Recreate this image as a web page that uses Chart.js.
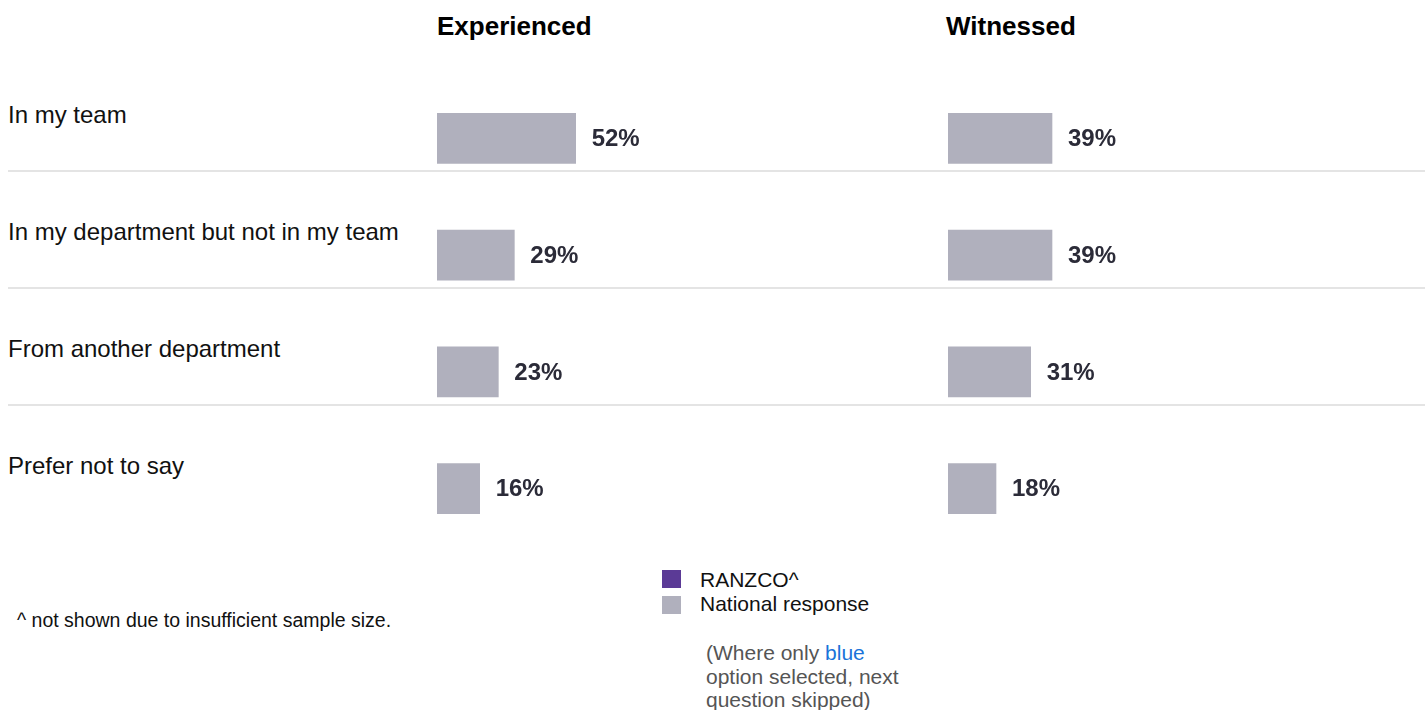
<!DOCTYPE html>
<html>
<head>
<meta charset="utf-8">
<title>Experienced / Witnessed</title>
<script src="https://cdn.jsdelivr.net/npm/chart.js@4"></script>
<style>
    html, body { margin: 0; padding: 0; background: #fff; }
    body { width: 1425px; height: 710px; position: relative; overflow: hidden;
           font-family: "Liberation Sans", Arial, Helvetica, sans-serif; color: #111; }
    .abs { position: absolute; white-space: nowrap; }
    .panel-title { font-size: 26px; line-height: 26px; font-weight: bold; color: #000; }
    .cat { font-size: 24px; line-height: 24px; color: #111; left: 8px; }
    .sep { position: absolute; left: 8px; right: 0; height: 2px; background: #e4e4e4; }
    .chart-box { position: absolute; }
    .swatch { position: absolute; width: 19px; height: 18px; }
    .legend-text { font-size: 21px; line-height: 21px; color: #111; }
    .note { font-size: 21px; line-height: 23.5px; color: #555; }
    .note span { color: #1a73d9; }
    .footnote { font-size: 19.5px; line-height: 20px; color: #111; }
</style>
</head>
<body>

<div class="abs panel-title" id="title0" style="left:437px; top:13px;"></div>
<div class="abs panel-title" id="title1" style="left:946px; top:13px;"></div>

<div class="chart-box" style="left:437px; top:80px; width:400px; height:467px;">
    <canvas id="experiencedChart" width="400" height="467"></canvas>
</div>
<div class="chart-box" style="left:948px; top:80px; width:400px; height:467px;">
    <canvas id="witnessedChart" width="400" height="467"></canvas>
</div>

<div id="rowLabels"></div>

<div class="swatch" id="sw0" style="left:662px; top:570px;"></div>
<div class="abs legend-text" id="lg0" style="left:700px; top:569px;"></div>
<div class="swatch" id="sw1" style="left:662px; top:596px;"></div>
<div class="abs legend-text" id="lg1" style="left:700px; top:593px;"></div>

<div class="abs note" style="left:706px; top:641px;">(Where only <span>blue</span><br>option selected, next<br>question skipped)</div>

<div class="abs footnote" style="left:17px; top:610px;">^ not shown due to insufficient sample size.</div>

<script>
// data
var categories = ['In my team', 'In my department but not in my team', 'From another department', 'Prefer not to say'];
var panelTitles = ['Experienced', 'Witnessed'];
var experienced = [52, 29, 23, 16];
var witnessed = [39, 39, 31, 18];
var seriesNames = ['RANZCO^', 'National response'];
var seriesColors = ['#5b3a96', '#b0b0bd'];

var CHART_TOP = 80;

// draws "52%" etc. just after each bar
var valueLabels = {
    id: 'valueLabels',
    afterDatasetsDraw: function (chart) {
        var ctx = chart.ctx;
        var meta = chart.getDatasetMeta(0);
        var data = chart.data.datasets[0].data;
        ctx.save();
        ctx.font = 'bold 24px "Liberation Sans", Arial, sans-serif';
        ctx.fillStyle = '#2b2b38';
        ctx.textAlign = 'left';
        ctx.textBaseline = 'middle';
        meta.data.forEach(function (bar, i) {
            ctx.fillText(data[i] + '%', bar.x + 16, bar.y + 1);
        });
        ctx.restore();
    }
};

function initPanel(id, values) {
    var ctx = document.getElementById(id).getContext('2d');
    return new Chart(ctx, {
        type: 'bar',
        data: {
            labels: categories,
            datasets: [{
                label: seriesNames[1],
                data: values,
                backgroundColor: seriesColors[1],
                borderWidth: 0,
                barThickness: 50
            }]
        },
        options: {
            indexAxis: 'y',
            responsive: false,
            animation: false,
            layout: { padding: 0 },
            plugins: {
                legend: { display: false },
                tooltip: { enabled: false }
            },
            scales: {
                x: { display: false, min: 0, max: 150 },
                y: { display: false }
            }
        },
        plugins: [valueLabels]
    });
}

var expChart = initPanel('experiencedChart', experienced);
initPanel('witnessedChart', witnessed);

// titles and legend text
document.getElementById('title0').textContent = panelTitles[0];
document.getElementById('title1').textContent = panelTitles[1];
seriesNames.forEach(function (name, i) {
    document.getElementById('sw' + i).style.background = seriesColors[i];
    document.getElementById('lg' + i).textContent = name;
});

// row labels and separators, placed from the category scale
var yScale = expChart.scales.y;
var holder = document.getElementById('rowLabels');
categories.forEach(function (cat, i) {
    var cy = CHART_TOP + yScale.getPixelForValue(i);
    var lbl = document.createElement('div');
    lbl.className = 'abs cat';
    lbl.style.top = (cy - 35) + 'px';
    lbl.textContent = cat;
    holder.appendChild(lbl);
    if (i < categories.length - 1) {
        var sep = document.createElement('div');
        sep.className = 'sep';
        sep.style.top = (cy + 32) + 'px';
        holder.appendChild(sep);
    }
});
</script>
</body>
</html>
